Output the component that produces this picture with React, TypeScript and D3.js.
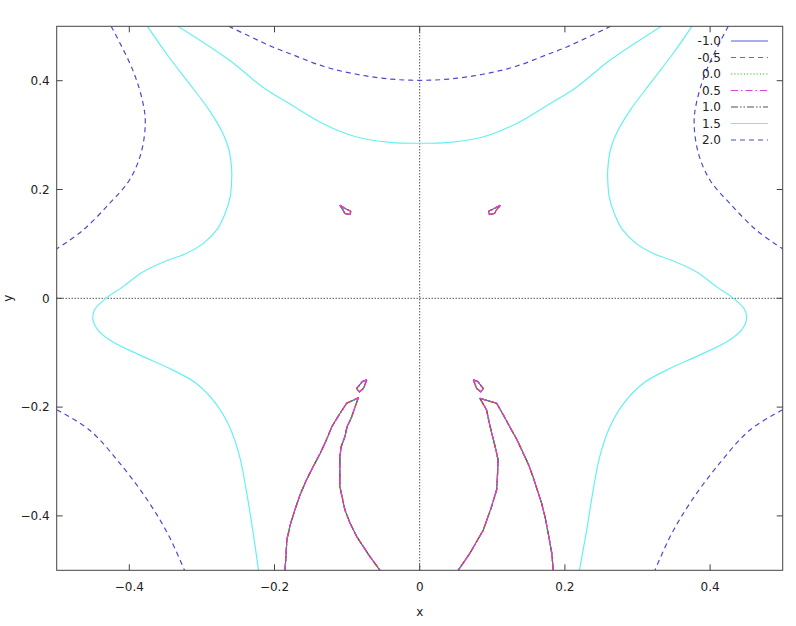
import React, { useEffect, useRef } from 'react';
import * as d3 from 'd3';

type Pt = [number, number];

const WIDTH = 796;
const HEIGHT = 626;
const PLOT = { left: 56.7, right: 782.7, top: 26.3, bottom: 570.3 };

const levels = ['-1.0', '-0.5', '0.0', '0.5', '1.0', '1.5', '2.0'];
const xTicks = [-0.4, -0.2, 0, 0.2, 0.4];
const yTicks = [-0.4, -0.2, 0, 0.2, 0.4];

// level 2.0 (dashed blue)
const dash2TopArc: Pt[] = [
  [-0.263, 0.5], [-0.2025, 0.462], [-0.1786, 0.4496], [-0.1328, 0.4265], [-0.0868, 0.4118],
  [-0.041, 0.4031], [0, 0.4007], [0.041, 0.4031], [0.0868, 0.4118], [0.1328, 0.4265],
  [0.1786, 0.4496], [0.2025, 0.462], [0.263, 0.5],
];
const dash2UpperLeft: Pt[] = [
  [-0.425, 0.5], [-0.395, 0.419], [-0.381, 0.358], [-0.378, 0.321], [-0.384, 0.266],
  [-0.4, 0.217], [-0.4275, 0.174], [-0.464, 0.125], [-0.5, 0.091],
];
const dash2UpperRight: Pt[] = [
  [0.425, 0.5], [0.395, 0.419], [0.381, 0.358], [0.378, 0.321], [0.384, 0.266],
  [0.4, 0.217], [0.4275, 0.174], [0.464, 0.125], [0.5, 0.091],
];
const dash2LowerLeft: Pt[] = [
  [-0.5, -0.205], [-0.455, -0.242], [-0.409, -0.31], [-0.372, -0.377], [-0.345, -0.438], [-0.324, -0.5],
];
const dash2LowerRight: Pt[] = [
  [0.5, -0.205], [0.455, -0.242], [0.409, -0.31], [0.372, -0.377], [0.345, -0.438], [0.324, -0.5],
];

// level 1.5 (cyan)
const cyanTopArc: Pt[] = [
  [-0.333, 0.5], [-0.262, 0.4375], [-0.216, 0.388], [-0.1786, 0.357], [-0.133, 0.321],
  [-0.0868, 0.2965], [-0.041, 0.2868], [0, 0.285], [0.041, 0.2868], [0.0868, 0.2965],
  [0.133, 0.321], [0.1786, 0.357], [0.216, 0.388], [0.262, 0.4375], [0.333, 0.5],
];
const cyanLeft: Pt[] = [
  [-0.375, 0.5], [-0.349, 0.45], [-0.317, 0.394], [-0.29, 0.346], [-0.271, 0.303],
  [-0.2627, 0.2726], [-0.259, 0.236], [-0.259, 0.2175], [-0.261, 0.187], [-0.268, 0.156],
  [-0.2796, 0.1256], [-0.298, 0.101], [-0.321, 0.0827], [-0.346, 0.0704], [-0.382, 0.048],
  [-0.409, 0.021], [-0.432, 0], [-0.448, -0.0215], [-0.45, -0.04], [-0.4435, -0.058],
  [-0.423, -0.08], [-0.386, -0.104], [-0.34, -0.132], [-0.308, -0.156], [-0.281, -0.193],
  [-0.262, -0.236], [-0.248, -0.291], [-0.239, -0.352], [-0.23, -0.426], [-0.222, -0.5],
];
const cyanRight: Pt[] = [
  [0.375, 0.5], [0.349, 0.45], [0.317, 0.394], [0.29, 0.346], [0.271, 0.303],
  [0.2627, 0.2726], [0.259, 0.236], [0.259, 0.2175], [0.261, 0.187], [0.268, 0.156],
  [0.2796, 0.1256], [0.298, 0.101], [0.321, 0.0827], [0.346, 0.0704], [0.382, 0.048],
  [0.409, 0.021], [0.432, 0], [0.448, -0.0215], [0.45, -0.04], [0.4435, -0.058],
  [0.423, -0.08], [0.386, -0.104], [0.34, -0.132], [0.308, -0.156], [0.281, -0.193],
  [0.262, -0.236], [0.248, -0.291], [0.239, -0.352], [0.23, -0.426], [0.22, -0.5],
];

// levels -1.0 .. 1.0 all crowd onto the same leaf-shaped edges and small islands
const leafLeft: Pt[] = [
  [-0.1855, -0.5], [-0.184, -0.47], [-0.183, -0.444], [-0.178, -0.415], [-0.172, -0.389],
  [-0.165, -0.362], [-0.156, -0.334], [-0.147, -0.31], [-0.137, -0.285], [-0.129, -0.262],
  [-0.121, -0.236], [-0.111, -0.214], [-0.1006, -0.193], [-0.0846, -0.183], [-0.0937, -0.218],
  [-0.1, -0.236], [-0.103, -0.254], [-0.108, -0.272], [-0.11, -0.291], [-0.11, -0.346],
  [-0.103, -0.389], [-0.096, -0.413], [-0.0868, -0.438], [-0.0685, -0.475], [-0.0547, -0.5],
];
const leafRight: Pt[] = [
  [0.184, -0.5], [0.182, -0.469], [0.177, -0.432], [0.173, -0.404], [0.168, -0.377],
  [0.156, -0.328], [0.15, -0.306], [0.1427, -0.285], [0.134, -0.26], [0.124, -0.236],
  [0.115, -0.214], [0.106, -0.193], [0.083, -0.184], [0.092, -0.205], [0.097, -0.236],
  [0.104, -0.273], [0.108, -0.297], [0.107, -0.33], [0.106, -0.352], [0.099, -0.383],
  [0.0876, -0.426], [0.069, -0.469], [0.053, -0.5],
];
const islandUpperLeft: Pt[] = [
  [-0.11, 0.171], [-0.104, 0.166], [-0.095, 0.16], [-0.096, 0.154], [-0.103, 0.156], [-0.106, 0.163], [-0.11, 0.171],
];
const islandUpperRight: Pt[] = [
  [0.111, 0.171], [0.104, 0.166], [0.095, 0.16], [0.096, 0.154], [0.103, 0.156], [0.106, 0.163], [0.111, 0.171],
];
const islandLowerLeft: Pt[] = [
  [-0.073, -0.15], [-0.079, -0.153], [-0.087, -0.166], [-0.083, -0.172], [-0.077, -0.165], [-0.075, -0.157], [-0.073, -0.15],
];
const islandLowerRight: Pt[] = [
  [0.074, -0.15], [0.08, -0.153], [0.0876, -0.166], [0.084, -0.172], [0.078, -0.165], [0.076, -0.157], [0.074, -0.15],
];

const innerShapes = [leafLeft, leafRight, islandUpperLeft, islandUpperRight, islandLowerLeft, islandLowerRight];

// which curves belong to which level (same order as `levels`)
const levelCurves: Pt[][][] = [
  innerShapes,
  innerShapes,
  innerShapes,
  innerShapes,
  innerShapes,
  [cyanTopArc, cyanLeft, cyanRight],
  [dash2TopArc, dash2UpperLeft, dash2UpperRight, dash2LowerLeft, dash2LowerRight],
];

// painting order: solid blue underneath, magenta dashes on top
const drawOrder = [0, 4, 2, 1, 3, 5, 6];

const STYLES = [
  { color: '#5a5ad6', dash: null as string | null },
  { color: '#f03c3c', dash: '5,4' },
  { color: '#2fbf2f', dash: '1.2,2' },
  { color: '#e040e0', dash: '7,3,1.5,3' },
  { color: '#505050', dash: '7,2,1.5,2,1.5,2' },
  { color: '#66f0f0', dash: null },
  { color: '#4b4bcc', dash: '5,4' },
];

const FONT = '"DejaVu Sans", Verdana, sans-serif';
const INK = '#222';
const FRAME = '#444';

const App: React.FC = () => {
  const svgRef = useRef<SVGSVGElement>(null);

  useEffect(() => {
    document.body.style.margin = '0';
    if (!svgRef.current) return;
    const root = d3.select(svgRef.current);
    root.selectAll('*').remove();
    root.attr('width', WIDTH).attr('height', HEIGHT);

    const x = d3.scaleLinear().domain([-0.5, 0.5]).range([PLOT.left, PLOT.right]);
    const y = d3.scaleLinear().domain([-0.5, 0.5]).range([PLOT.bottom, PLOT.top]);

    root.append('rect').attr('width', WIDTH).attr('height', HEIGHT).attr('fill', '#fff');

    root
      .append('defs')
      .append('clipPath')
      .attr('id', 'plot-clip')
      .append('rect')
      .attr('x', PLOT.left)
      .attr('y', PLOT.top)
      .attr('width', PLOT.right - PLOT.left)
      .attr('height', PLOT.bottom - PLOT.top);

    // zero axes
    root
      .append('line')
      .attr('x1', x(0))
      .attr('x2', x(0))
      .attr('y1', PLOT.top)
      .attr('y2', PLOT.bottom)
      .attr('stroke', '#000')
      .attr('stroke-dasharray', '1,2');
    root
      .append('line')
      .attr('x1', PLOT.left)
      .attr('x2', PLOT.right)
      .attr('y1', y(0))
      .attr('y2', y(0))
      .attr('stroke', '#000')
      .attr('stroke-dasharray', '1,2');

    // contour lines: jagged polylines for the crowded levels, smooth for 1.5 / 2.0
    const line = d3
      .line<Pt>()
      .x(d => x(d[0]))
      .y(d => y(d[1]));
    const smooth = d3
      .line<Pt>()
      .x(d => x(d[0]))
      .y(d => y(d[1]))
      .curve(d3.curveCatmullRom.alpha(0.5));

    const contours = root.append('g').attr('clip-path', 'url(#plot-clip)');
    drawOrder.forEach(i => {
      const st = STYLES[i];
      levelCurves[i].forEach(c => {
        contours
          .append('path')
          .attr('d', (i < 5 ? line : smooth)(c) || '')
          .attr('fill', 'none')
          .attr('stroke', st.color)
          .attr('stroke-width', 1.2)
          .attr('stroke-dasharray', st.dash)
          .attr('stroke-linejoin', 'round');
      });
    });

    // frame + mirrored ticks
    root
      .append('rect')
      .attr('x', PLOT.left)
      .attr('y', PLOT.top)
      .attr('width', PLOT.right - PLOT.left)
      .attr('height', PLOT.bottom - PLOT.top)
      .attr('fill', 'none')
      .attr('stroke', FRAME);

    const TICK = 6;
    const label = (sel: d3.Selection<SVGTextElement, unknown, null, undefined>) =>
      sel.style('font-family', FONT).style('font-size', '12px').style('fill', INK);

    xTicks.forEach(t => {
      root.append('line').attr('x1', x(t)).attr('x2', x(t)).attr('y1', PLOT.bottom).attr('y2', PLOT.bottom - TICK).attr('stroke', FRAME);
      root.append('line').attr('x1', x(t)).attr('x2', x(t)).attr('y1', PLOT.top).attr('y2', PLOT.top + TICK).attr('stroke', FRAME);
      root
        .append('text')
        .attr('x', x(t))
        .attr('y', PLOT.bottom + 21)
        .attr('text-anchor', 'middle')
        .call(label)
        .text(d3.format('')(t));
    });
    yTicks.forEach(t => {
      root.append('line').attr('x1', PLOT.left).attr('x2', PLOT.left + TICK).attr('y1', y(t)).attr('y2', y(t)).attr('stroke', FRAME);
      root.append('line').attr('x1', PLOT.right).attr('x2', PLOT.right - TICK).attr('y1', y(t)).attr('y2', y(t)).attr('stroke', FRAME);
      root
        .append('text')
        .attr('x', PLOT.left - 7)
        .attr('y', y(t))
        .attr('dy', '0.35em')
        .attr('text-anchor', 'end')
        .call(label)
        .text(d3.format('')(t));
    });

    root.append('text').attr('x', x(0)).attr('y', 616).attr('text-anchor', 'middle').call(label).text('x');
    root
      .append('text')
      .attr('transform', `translate(12,${y(0)}) rotate(-90)`)
      .attr('text-anchor', 'middle')
      .call(label)
      .text('y');

    // key
    const key = root.append('g');
    levels.forEach((lab, i) => {
      const cy = 41 + i * 16.5;
      const st = STYLES[i];
      key
        .append('text')
        .attr('x', 721)
        .attr('y', cy)
        .attr('dy', '0.35em')
        .attr('text-anchor', 'end')
        .call(label)
        .text(lab);
      key
        .append('line')
        .attr('x1', 731)
        .attr('x2', 768)
        .attr('y1', cy)
        .attr('y2', cy)
        .attr('stroke', st.color)
        .attr('stroke-width', 1.2)
        .attr('stroke-dasharray', st.dash);
    });
  }, []);

  return <svg ref={svgRef} style={{ display: 'block' }} />;
};

export default App;
